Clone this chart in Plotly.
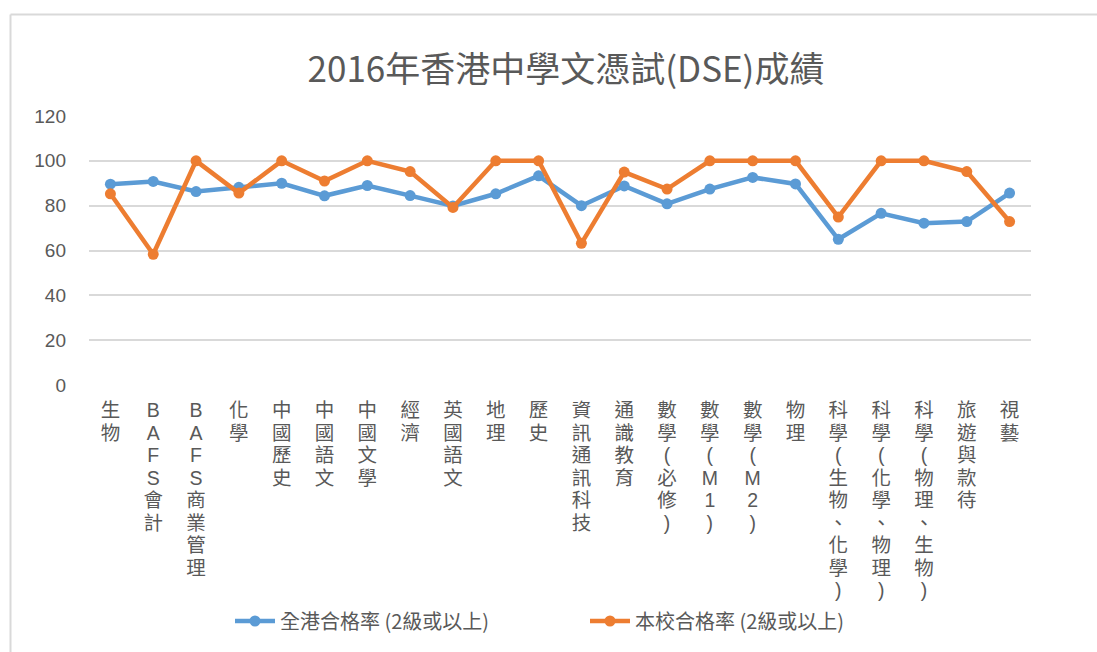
import plotly.graph_objects as go

categories = ["生物", "BAFS會計", "BAFS商業管理", "化學", "中國歷史", "中國語文", "中國文學",
              "經濟", "英國語文", "地理", "歷史", "資訊通訊科技", "通識教育", "數學(必修)",
              "數學(M1)", "數學(M2)", "物理", "科學(生物、化學)", "科學(化學、物理)",
              "科學(物理、生物)", "旅遊與款待", "視藝"]
hk_rate = [89.6, 90.8, 86.3, 88.2, 90.0, 84.4, 89.0, 84.5, 79.9, 85.3, 93.3,
           80.0, 88.8, 80.8, 87.4, 92.6, 89.7, 65.0, 76.6, 72.2, 72.9, 85.6]
school_rate = [85.3, 58.3, 100, 85.6, 100, 91.0, 100, 95.2, 79.2, 100, 100,
               63.2, 95.0, 87.4, 100, 100, 100, 74.9, 100, 100, 95.2, 72.9]
series_names = ["全港合格率 (2級或以上)", "本校合格率 (2級或以上)"]
y_ticks = [0, 20, 40, 60, 80, 100, 120]
title_text = "2016年香港中學文憑試(DSE)成績"

def vertical(label):
    # stack characters one per line, like Excel's vertical text
    return "<br>".join("<span style='font-size:19.5px'>%s</span>" % ch for ch in label)

tick_text = [vertical(c) for c in categories]
x_idx = list(range(len(categories)))

BLUE = "#5B9BD5"
ORANGE = "#ED7D31"
GREY = "#595959"
CJK = "Noto Sans CJK TC"
TICKFONT = "Liberation Sans, Noto Sans CJK TC"

fig = go.Figure()
for name, vals, col in [(series_names[0], hk_rate, BLUE), (series_names[1], school_rate, ORANGE)]:
    fig.add_trace(go.Scatter(
        x=x_idx, y=vals, name=name, mode="lines+markers",
        line=dict(color=col, width=4.5),
        marker=dict(color=col, size=11, symbol="circle"),
    ))

W, H = 1097, 652
L, R, T, B = 89, 66, 116, 267
pw, ph = W - L - R, H - T - B

fig.update_layout(
    width=W, height=H,
    margin=dict(l=L, r=R, t=T, b=B, autoexpand=False),
    paper_bgcolor="white", plot_bgcolor="white",
    font=dict(family=CJK, color=GREY),
    title=dict(text=title_text, x=566 / W, xanchor="center", xref="container",
               y=1 - 70 / H, yanchor="middle", yref="container",
               font=dict(size=35, color=GREY, family=CJK)),
    showlegend=True,
    legend=dict(orientation="h", x=585 / W, xanchor="center", xref="container",
                y=1 - 621 / H, yanchor="middle", yref="container",
                font=dict(size=20, color=GREY, family=CJK),
                bgcolor="rgba(0,0,0,0)",
                itemwidth=40, entrywidth=300),
    xaxis=dict(
        tickmode="array", tickvals=x_idx, ticktext=tick_text,
        range=[-0.5, len(categories) - 0.5],
        showgrid=False, zeroline=False, showline=False, automargin=False,
        tickangle=0, tickfont=dict(size=17.3, color=GREY, family=TICKFONT),
        ticks="", ticklabelstandoff=14,
    ),
    yaxis=dict(
        tickmode="array", tickvals=y_ticks, range=[0, 120],
        showgrid=True, gridcolor="#D9D9D9", gridwidth=1.5,
        zeroline=False, showline=False, automargin=False,
        tickfont=dict(size=19, color=GREY, family=TICKFONT),
        ticks="", ticklabelstandoff=22,
    ),
    shapes=[
        dict(type="line", xref="paper", yref="paper",
             x0=(10.5 - L) / pw, x1=(10.5 - L) / pw,
             y0=-(B + 10) / ph, y1=1 + (T - 14.5) / ph,
             line=dict(color="#D9D9D9", width=2)),
        dict(type="line", xref="paper", yref="paper",
             x0=(10.5 - L) / pw, x1=1 + (R + 10) / pw,
             y0=1 + (T - 14.5) / ph, y1=1 + (T - 14.5) / ph,
             line=dict(color="#D9D9D9", width=2)),
    ],
)

fig.write_html("out.html", config={"displayModeBar": False},
               post_script="document.body.style.margin='0px';")
